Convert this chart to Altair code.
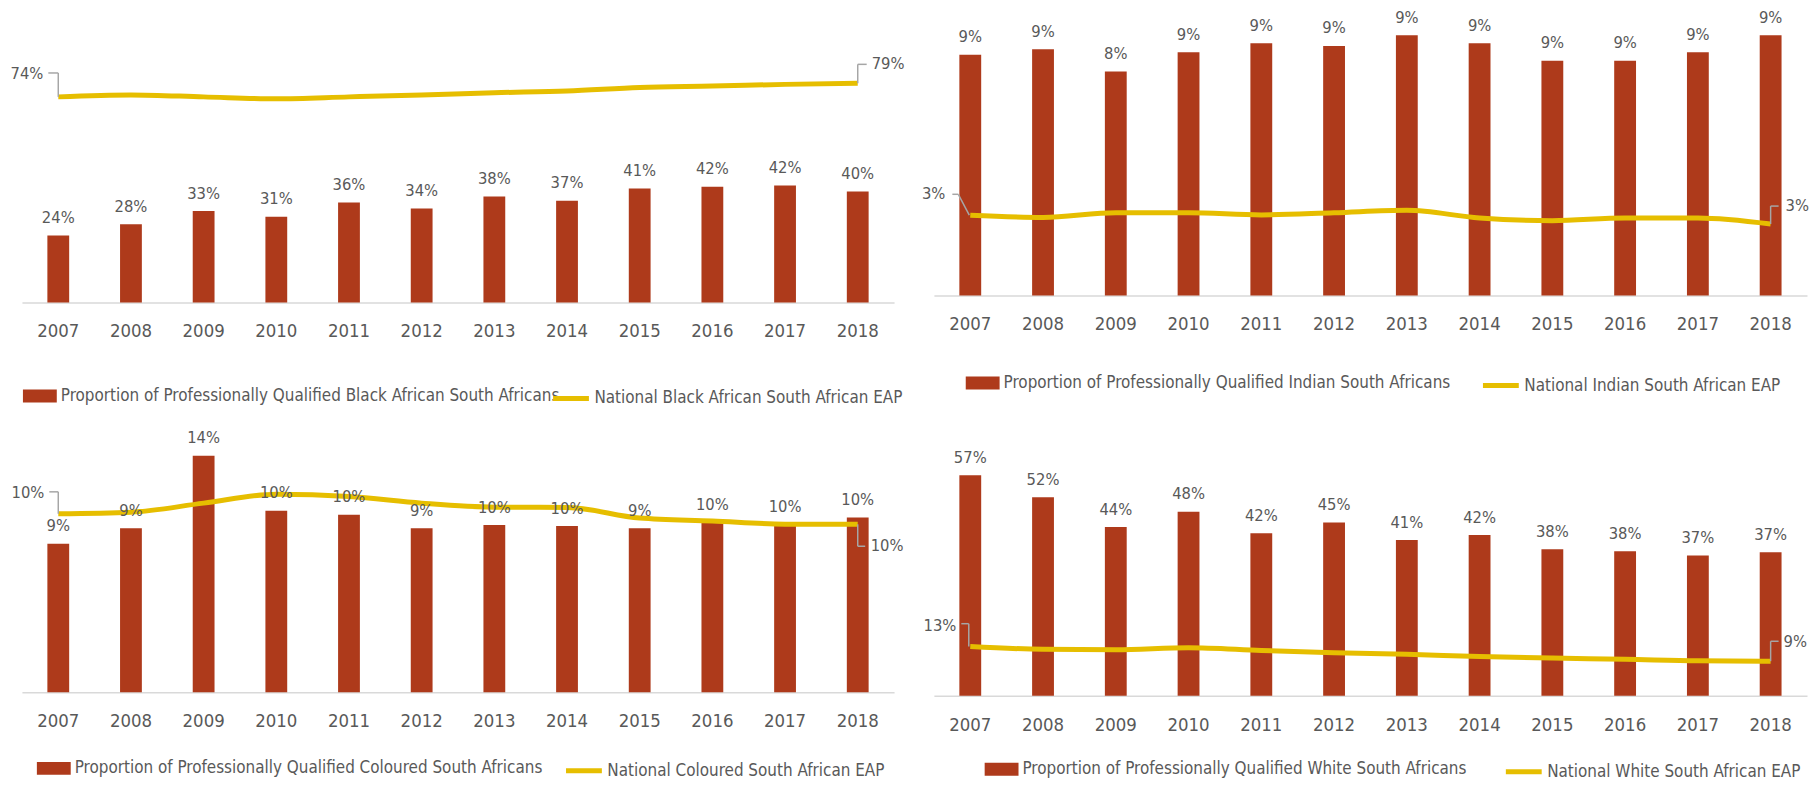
import altair as alt
import pandas as pd

years = [2007, 2008, 2009, 2010, 2011, 2012, 2013, 2014, 2015, 2016, 2017, 2018]

black_prof = [0.241, 0.281, 0.329, 0.308, 0.360, 0.338, 0.381, 0.366, 0.410, 0.416, 0.421, 0.399]
black_eap = [0.740, 0.747, 0.740, 0.733, 0.740, 0.747, 0.755, 0.761, 0.774, 0.779, 0.785, 0.789]

indian_prof = [0.0876, 0.0896, 0.0815, 0.0885, 0.0918, 0.0908, 0.0947, 0.0918, 0.0854, 0.0854, 0.0885, 0.0947]
indian_eap = [0.0292, 0.0284, 0.0301, 0.0301, 0.0293, 0.0301, 0.0310, 0.0282, 0.0272, 0.0282, 0.0282, 0.0260]

coloured_prof = [0.0855, 0.0944, 0.1362, 0.1045, 0.1022, 0.0944, 0.0963, 0.0957, 0.0944, 0.0980, 0.0964, 0.1007]
coloured_eap = [0.1028, 0.1037, 0.1089, 0.1140, 0.1127, 0.1089, 0.1066, 0.1064, 0.1003, 0.0986, 0.0968, 0.0967]

white_prof = [0.575, 0.518, 0.440, 0.480, 0.424, 0.452, 0.406, 0.419, 0.382, 0.377, 0.366, 0.374]
white_eap = [0.128, 0.121, 0.120, 0.125, 0.118, 0.112, 0.108, 0.102, 0.098, 0.095, 0.091, 0.090]

prof_names = [
    "Proportion of Professionally Qualified Black African South Africans",
    "Proportion of Professionally Qualified Indian South Africans",
    "Proportion of Professionally Qualified Coloured South Africans",
    "Proportion of Professionally Qualified White South Africans",
]
eap_names = [
    "National Black African South African EAP",
    "National Indian South African EAP",
    "National Coloured South African EAP",
    "National White South African EAP",
]

BAR = "#AE3A1B"
LINE = "#E6BE00"
TEXT = "#595959"
LEAD = "#A6A6A6"
FONT = "'DejaVu Sans Condensed', sans-serif"


def panel(prof, eap, pname, ename, ydom, axoff, width, height, leg, ends):
    df = pd.DataFrame({"year": years, "prof": prof, "eap": eap,
                       "pname": pname, "ename": ename})
    base = alt.Chart(df)
    x = alt.X("year:O",
              scale=alt.Scale(paddingInner=0.7, paddingOuter=0.35),
              axis=alt.Axis(title=None, labelAngle=0, ticks=False, tickSize=0,
                            domainColor="#D9D9D9", domainWidth=1.5, grid=False,
                            offset=axoff,
                            labelFont=FONT, labelFontSize=18.5, labelColor=TEXT,
                            labelPadding=19.5))
    ys = alt.Scale(domain=ydom, nice=False, zero=False)
    yp = alt.Y("prof:Q", scale=ys, axis=None)
    ye = alt.Y("eap:Q", scale=ys, axis=None)
    lab = dict(labelFont=FONT, labelFontSize=17, labelColor=TEXT,
               labelLimit=1000, padding=0, title=None, orient="none",
               legendY=leg[2], symbolSize=400, labelOffset=11)

    bars = base.mark_bar().encode(
        x=x, y=yp, y2=alt.datum(0),
        fill=alt.Fill("pname:N", scale=alt.Scale(range=[BAR]),
                      legend=alt.Legend(legendX=leg[0],
                                        symbolType="M-1.7,-0.65H1.7V0.65H-1.7Z",
                                        symbolStrokeWidth=0, **lab)))
    blabels = base.mark_text(baseline="alphabetic", dy=-12.5, font=FONT,
                             fontSize=16.5, color=TEXT).encode(
        x=x, y=yp, text=alt.Text("prof:Q", format=".0%"))
    line = base.mark_line(strokeWidth=5, interpolate="monotone").encode(
        x=x, y=ye,
        stroke=alt.Stroke("ename:N", scale=alt.Scale(range=[LINE]),
                          legend=alt.Legend(legendX=leg[1], symbolType="M-1.8,0H1.8",
                                            symbolStrokeWidth=5, **lab)))
    first = base.transform_filter(alt.datum.year == years[0])
    last = base.transform_filter(alt.datum.year == years[-1])
    L, R = ends
    lt = first.mark_text(align="right", baseline="middle", dx=L["dx"], dy=L["dy"],
                         font=FONT, fontSize=16.5, color=TEXT).encode(
        x=x, y=ye, text=alt.Text("eap:Q", format=".0%"))
    rt = last.mark_text(align="left", baseline="middle", dx=R["dx"], dy=R["dy"],
                        font=FONT, fontSize=16.5, color=TEXT).encode(
        x=x, y=ye, text=alt.Text("eap:Q", format=".0%"))
    enc = dict(x=x, x2="year:O", y=ye, y2="eap:Q")
    l1 = first.mark_rule(color=LEAD, strokeWidth=1.5, xOffset=L["h0"], x2Offset=L["h1"],
                         yOffset=L["hy"], y2Offset=L["hy"]).encode(**enc)
    l2 = first.mark_rule(color=LEAD, strokeWidth=1.5, xOffset=L["h1"], x2Offset=L["vx"],
                         yOffset=L["hy"], y2Offset=0).encode(**enc)
    r1 = last.mark_rule(color=LEAD, strokeWidth=1.5, xOffset=0, x2Offset=0,
                        yOffset=0, y2Offset=R["hy"]).encode(**enc)
    r2 = last.mark_rule(color=LEAD, strokeWidth=1.5, xOffset=0, x2Offset=R["h1"],
                        yOffset=R["hy"], y2Offset=R["hy"]).encode(**enc)
    return alt.layer(bars, line, blabels, l1, l2, r1, r2, lt, rt).properties(
        width=width, height=height)


W1, W2, H1, H2 = 876, 877, 279, 282

p1 = panel(black_prof, black_eap, prof_names[0], eap_names[0], [0, 1.0], 0, W1, H1,
           (8, 539, 363),
           (dict(dx=-15, dy=-23, h0=-10, h1=0, hy=-24, vx=0),
            dict(dx=14, dy=-19, h1=9, hy=-19)))
p2 = panel(indian_prof, indian_eap, prof_names[1], eap_names[1], [-0.00254, 0.09855], -7,
           W2, H1, (39, 557, 350),
           (dict(dx=-25, dy=-21, h0=-18, h1=-12, hy=-21, vx=-1),
            dict(dx=15, dy=-18, h1=8, hy=-18)))
p3 = panel(coloured_prof, coloured_eap, prof_names[2], eap_names[2], [-0.00195, 0.1597], -3.4,
           W1, H2, (22, 552, 345),
           (dict(dx=-14, dy=-21, h0=-9, h1=0, hy=-22, vx=0),
            dict(dx=13, dy=22, h1=7.5, hy=22)))
p4 = panel(white_prof, white_eap, prof_names[3], eap_names[3], [0, 0.7325], 0,
           W2, H2, (58, 580, 346),
           (dict(dx=-14, dy=-21, h0=-9, h1=-1.5, hy=-23, vx=-1.5),
            dict(dx=13, dy=-19, h1=8, hy=-20)))

chart = alt.concat(p1, p2, p3, p4, columns=2,
                   spacing={"row": 113, "column": 40}, bounds="flush").resolve_scale(
    x="independent", y="independent", fill="independent", stroke="independent"
).resolve_legend(fill="independent", stroke="independent").properties(
    padding={"left": 2, "top": 0, "right": 0, "bottom": 0}, background="white"
).configure_view(stroke="transparent", strokeWidth=0)

chart.save("out.html", embed_options={"renderer": "svg", "actions": False})
